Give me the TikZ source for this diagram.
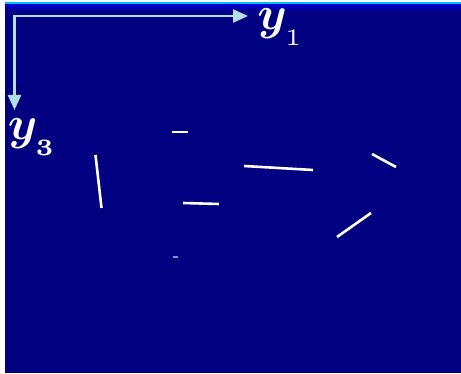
\documentclass[tikz,border=0pt]{standalone}
\usepackage{amsmath,bm}
\usetikzlibrary{arrows.meta}
\definecolor{bgnavy}{HTML}{000080}
\definecolor{axiscol}{HTML}{B0E0E6}
\definecolor{topline}{HTML}{00BFFF}
\newcommand{\lowsub}[1]{\raisebox{-1.9pt}{$\scriptscriptstyle #1$}}
\tikzset{
  stick/.style={white,line width=2.6pt},
  axis/.style={axiscol,line width=2.4pt},
  axislabel/.style={white,inner sep=0pt,anchor=base west,scale=4.7,transform shape}
}
\begin{document}
\begin{tikzpicture}[x=1pt,y=-1pt,>={Triangle[length=15pt,width=13pt]}]
    \useasboundingbox (0,0) rectangle (461,374);
    \fill[bgnavy] (5,2) rectangle (461,373);
    \foreach \i [evaluate=\i as \p using 70-\i*9] in {0,...,7}
        \fill[blue!\p!bgnavy] (5,4+\i) rectangle (461,5+\i);
    \fill[topline] (5,2) rectangle (461,4);
    % frame axes
    \coordinate (O) at (14.5,16);
    \coordinate (e1) at (248,16);
    \coordinate (e3) at (14.5,110);
    \draw[axis,<->] (e3) -- (O) -- (e1);
    \node[axislabel] (l1) at (256.5,29.5) {$\boldsymbol{y}_{\lowsub{1}}$};
    \node[axislabel] (l3) at (7,139.5) {$\boldsymbol{y}_{\lowsub{\boldsymbol{3}}}$};
    % sticks
    \draw[stick] (172,132) -- (188,132);
    \draw[stick] (95.5,155) -- (101.5,208);
    \draw[stick] (183,203) -- (219,204);
    \draw[stick] (244,166) -- (313,170);
    \draw[stick] (372,154) -- (396,167);
    \draw[stick] (337,237) -- (371,213);
    \draw[white!55!bgnavy,line width=1.5pt] (173,257) -- (178,257);
\end{tikzpicture}
\end{document}
